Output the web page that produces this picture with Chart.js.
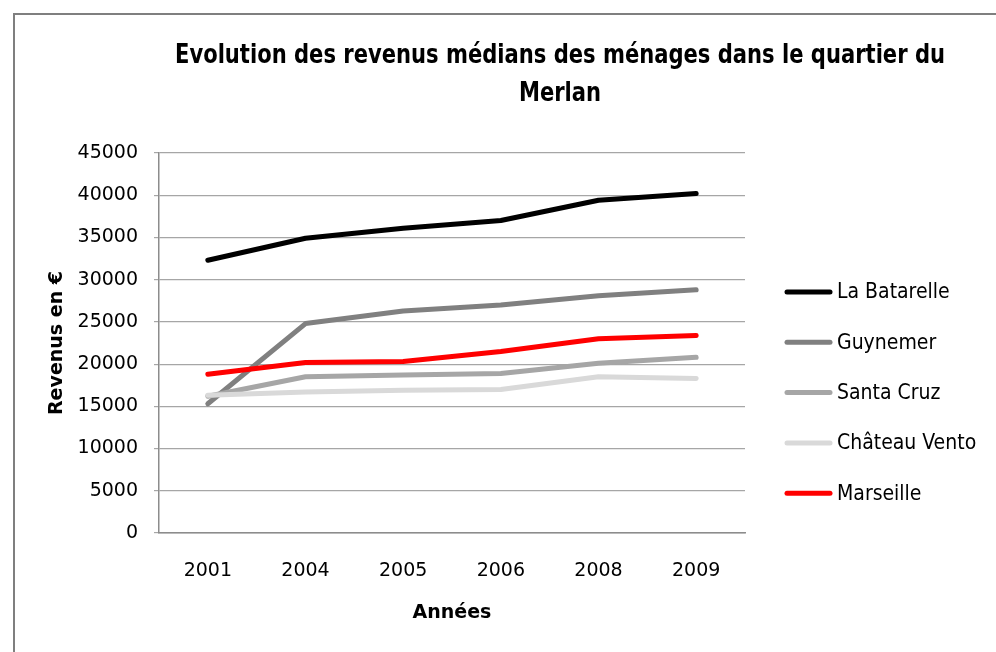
<!DOCTYPE html>
<html>
<head>
<meta charset="utf-8">
<script src="https://cdn.jsdelivr.net/npm/chart.js@4.4.0/dist/chart.umd.min.js"></script>
<style>
  html, body { margin: 0; padding: 0; background: #fff; overflow: hidden; }
  #frame {
    position: absolute; left: 13px; top: 13px; width: 1200px; height: 900px;
    border-left: 2px solid #7f7f7f; border-top: 2px solid #7f7f7f;
  }
  #chart { position: absolute; left: 0; top: 0; }
</style>
</head>
<body>
<div id="frame"></div>
<canvas id="chart" width="996" height="652"></canvas>
<script>
// Revenus médians (en €) par année
const years = ['2001', '2004', '2005', '2006', '2008', '2009'];
const laBatarelle  = [32300, 34900, 36100, 37000, 39400, 40200];
const guynemer     = [15300, 24800, 26300, 27000, 28100, 28800];
const santaCruz    = [16200, 18500, 18700, 18900, 20100, 20800];
const chateauVento = [16300, 16700, 16900, 17000, 18500, 18300];
const marseille    = [18800, 20200, 20300, 21500, 23000, 23400];

const seriesNames  = ['La Batarelle', 'Guynemer', 'Santa Cruz', 'Château Vento', 'Marseille'];
const seriesValues = [laBatarelle, guynemer, santaCruz, chateauVento, marseille];
const seriesColors = ['#000000', '#808080', '#a6a6a6', '#d9d9d9', '#ff0000'];

const titleLines = ['Evolution des revenus médians des ménages dans le quartier du', 'Merlan'];

const SANS = '"DejaVu Sans", sans-serif';
const COND = '"DejaVu Sans Condensed", "DejaVu Sans", sans-serif';

// title in two lines, squeezed horizontally to a narrow look
const titlePlugin = {
  id: 'twoLineTitle',
  afterDraw(chart) {
    const ctx = chart.ctx;
    ctx.save();
    ctx.font = 'bold 26px ' + COND;
    const w = ctx.measureText(titleLines[0]).width;
    const sx = Math.min(1, 770 / w);
    ctx.fillStyle = '#000';
    ctx.textAlign = 'center';
    ctx.textBaseline = 'middle';
    ctx.translate(560, 0);
    ctx.scale(sx, 1);
    ctx.fillText(titleLines[0], 0, 56);
    ctx.fillText(titleLines[1], 0, 94);
    ctx.restore();
  }
};

// legend on the right: a short thick line per series with its name
const sideLegend = {
  id: 'sideLegend',
  afterDraw(chart) {
    const ctx = chart.ctx;
    ctx.save();
    ctx.font = '21px ' + COND;
    ctx.textAlign = 'left';
    ctx.textBaseline = 'middle';
    chart.data.datasets.forEach((ds, i) => {
      const y = 292 + i * 50.3;
      ctx.strokeStyle = ds.borderColor;
      ctx.lineWidth = 5;
      ctx.lineCap = 'round';
      ctx.beginPath();
      ctx.moveTo(787, y);
      ctx.lineTo(830, y);
      ctx.stroke();
      ctx.fillStyle = '#000';
      ctx.fillText(ds.label, 837, y + 1);
    });
    ctx.restore();
  }
};

new Chart(document.getElementById('chart'), {
  type: 'line',
  data: {
    labels: years,
    datasets: seriesNames.map((name, i) => ({
      label: name,
      data: seriesValues[i],
      borderColor: seriesColors[i],
      backgroundColor: seriesColors[i],
      borderWidth: 5,
      borderJoinStyle: 'round',
      borderCapStyle: 'round',
      pointRadius: 0,
      tension: 0,
      fill: false,
      order: seriesNames.length - i
    }))
  },
  options: {
    responsive: false,
    animation: false,
    layout: { padding: { left: 14, top: 153, right: 251, bottom: 0 } },
    plugins: {
      legend: { display: false },
      title: { display: false },
      tooltip: { enabled: false }
    },
    scales: {
      x: {
        offset: true,
        grid: { display: false, drawTicks: false },
        border: { display: true, color: '#8c8c8c', width: 1.5 },
        ticks: { color: '#000', font: { family: SANS, size: 19 }, padding: 27 },
        title: {
          display: true, text: 'Années', color: '#000',
          font: { family: SANS, size: 19, weight: 'bold' },
          padding: { top: 0, bottom: 28 }
        },
        afterFit: s => { s.height = 119; }
      },
      y: {
        min: 0,
        max: 45000,
        ticks: {
          stepSize: 5000, color: '#000', font: { family: SANS, size: 19 }, padding: 16,
          callback: v => String(v)
        },
        grid: { color: '#a6a6a6', lineWidth: 1.2, tickLength: 5 },
        border: { display: true, color: '#8c8c8c', width: 1.5 },
        title: {
          display: true, text: 'Revenus en €', color: '#000',
          font: { family: SANS, size: 19, weight: 'bold' },
          padding: { top: 32, bottom: 0 }
        },
        afterFit: s => { s.width = 145; }
      }
    }
  },
  plugins: [titlePlugin, sideLegend]
});
</script>
</body>
</html>
